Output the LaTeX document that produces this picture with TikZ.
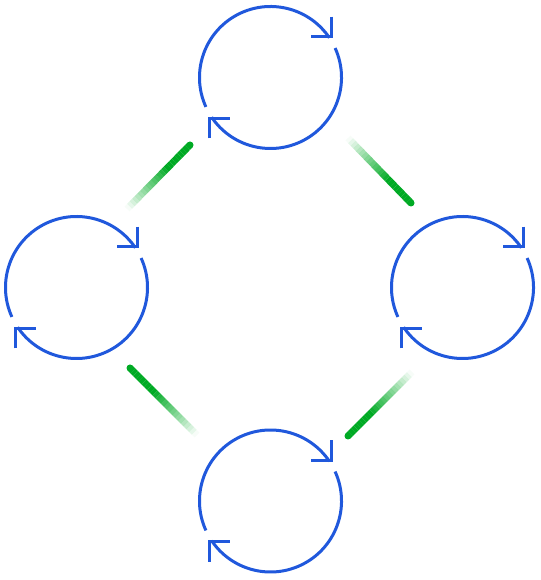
\documentclass[tikz,border=0pt]{standalone}
\usetikzlibrary{calc}
\definecolor{ringblue}{RGB}{32,88,220}
\definecolor{linkgreen}{RGB}{0,170,36}
\begin{document}
\begin{tikzpicture}[x=1pt,y=1pt]
	\useasboundingbox (0,0) rectangle (540,580);
	\def\rad{71}
	\def\segs{24}
	\tikzstyle{c-node}=[circle,inner sep=0pt,minimum size=142pt]
	\tikzstyle{ring}=[draw=ringblue,line width=3pt]
	\tikzstyle{link}=[draw=linkgreen,line width=7pt]
	% cycles
	\node[c-node] (top)    at (270.5,502.5) {};
	\node[c-node] (left)   at (76.5,292.5)  {};
	\node[c-node] (right)  at (462.5,292.5) {};
	\node[c-node] (bottom) at (270.5,79)    {};

	\foreach \n in {top,left,right,bottom} {
		\draw[ring] (\n.center) ++(204.5:\rad) arc[start angle=204.5,end angle=34,radius=\rad];
		\draw[ring] (\n.center) ++(24.5:\rad) arc[start angle=24.5,end angle=-146,radius=\rad];
		% arrow corners
		\draw[ring] ($(\n.center)+(34:73)$) ++(0,20) -- ++(0,-20) -- ++(-20,0);
		\draw[ring] ($(\n.center)+(214:73)$) ++(0,-20) -- ++(0,20) -- ++(20,0);
	}

	% links
	\coordinate (tl-a) at (190,435);
	\coordinate (tl-b) at (127,371);
	\coordinate (tr-a) at (411,377);
	\coordinate (tr-b) at (348,442);
	\coordinate (bl-a) at (130,212);
	\coordinate (bl-b) at (197,145);
	\coordinate (br-a) at (348,144);
	\coordinate (br-b) at (412,208);

	\foreach \a/\b in {tl-a/tl-b,tr-a/tr-b,bl-a/bl-b,br-a/br-b} {
		\fill[linkgreen] (\a) circle (3.5);
		\foreach \i in {1,...,\segs} {
			\pgfmathsetmacro\s{(\i-1)/\segs}
			\pgfmathsetmacro\e{\i/\segs}
			\pgfmathsetmacro\op{min(1,1.55*(1-(\i-0.5)/\segs))}
			\draw[link,draw opacity=\op] ($(\a)!\s!(\b)$) -- ($(\a)!\e!(\b)$);
		}
	}
\end{tikzpicture}
\end{document}
